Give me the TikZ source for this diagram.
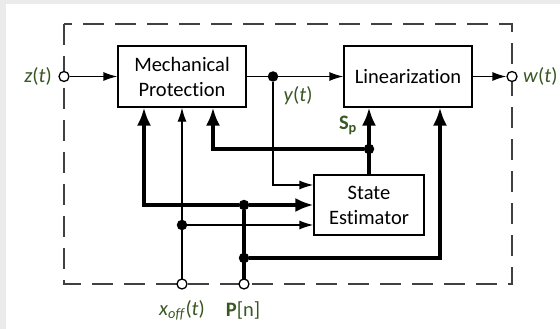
\documentclass[tikz,border=0pt]{standalone}
\usepackage{fontspec}
\setmainfont{Carlito}[Ligatures={NoCommon}]
\usetikzlibrary{arrows.meta,calc}
\definecolor{sigtext}{HTML}{385723}
\definecolor{frame}{HTML}{404040}
\definecolor{paper}{HTML}{EBEBEB}

\begin{document}
\begin{tikzpicture}[x=1pt, y=-1pt,
      block/.style={draw, line width=1.3pt, minimum width=128pt, minimum height=61pt,
                    align=center, inner sep=2pt, font=\fontsize{20.5}{25}\selectfont},
      sig/.style={line width=1.3pt, -{Latex[length=14pt,width=9pt]}},
      bigsig/.style={line width=3.2pt, -{Latex[length=18pt,width=14pt]}},
      wire/.style={line width=1.3pt},
      bigwire/.style={line width=3.2pt},
      port/.style={circle, draw, fill=white, line width=1.3pt, inner sep=0pt, minimum size=10pt},
      dot/.style={circle, fill, inner sep=0pt, minimum size=10.5pt},
      signame/.style={text=sigtext, font=\fontsize{20.5}{25}\selectfont, inner sep=1pt}
    ]
      \useasboundingbox (0,0) rectangle (560,329);
      \fill[paper] (0,0) rectangle (560,329);
      \fill[white] (6,4) rectangle (560,329);

      % System boundary
      \draw[frame, line width=1.5pt, dash pattern=on 21pt off 11pt] (64,24) rectangle (512,284);

      % Blocks
      \node[block] (mech) at (182,76.5) {Mechanical\\Protection};
      \node[block] (lin) at (408,76.5) {Linearization};
      \node[block, minimum width=110pt, minimum height=60pt] (est) at (369,205) {State\\Estimator};

      % Junctions
      \node[dot] (ysplit) at (273,76.5) {};
      \node[dot] (sdot) at (369,149) {};
      \node[dot] (pjoin) at (244,205) {};
      \node[dot] (pdot) at (244,258) {};
      \node[dot] (xdot) at (182,225) {};

      % Main signal path
      \draw[sig] (ysplit) -- (lin);
      \draw[wire] (mech) -- (ysplit);
      \draw[sig] (ysplit) |- ($(est.west)+(0,-20)$);

      % Offset
      \draw[sig] (182,284) -- (mech);
      \draw[sig] (xdot) -- ($(est.west)+(0,20)$);

      % Parameters
      \draw[bigwire] (244,284) -- (pjoin);
      \draw[bigsig] (pjoin) -| ($(mech.south)+(-38,0)$);
      \draw[bigsig] (pjoin) -- (est);
      \draw[bigsig] (pdot) -| ($(lin.south)+(32,0)$);

      % Estimated state
      \draw[bigsig] (est.north) -- ($(lin.south)+(-39,0)$);
      \draw[bigsig] (sdot) -| ($(mech.south)+(31,0)$);

      % Ports
      \node[port] (zin) at (64,76.5) {};
      \node[port] (wout) at (512,76.5) {};
      \node[port] (xin) at (182,284) {};
      \node[port] (pin) at (244,284) {};
      \draw[sig] (zin) -- (mech);
      \draw[sig] (lin) -- (wout);

      % Labels
      \node[signame, anchor=east] (zlab) at (53,76.5) {\textit{z}(\textit{t})};
      \node[signame, anchor=west] (wlab) at (522,76.5) {\textit{w}(\textit{t})};
      \node[signame] (ylab) at (298,96) {\textit{y}(\textit{t})};
      \node[signame, font=\fontsize{20.5}{25}\selectfont\bfseries] (slab) at (348,125) {S\textsubscript{p}};
      \node[signame] (xlab) at (182,310) {\textit{x}\textsubscript{\textit{off}}(\textit{t})};
      \node[signame] (plab) at (243,310) {\textbf{P}[n]};
    \end{tikzpicture}
\end{document}
